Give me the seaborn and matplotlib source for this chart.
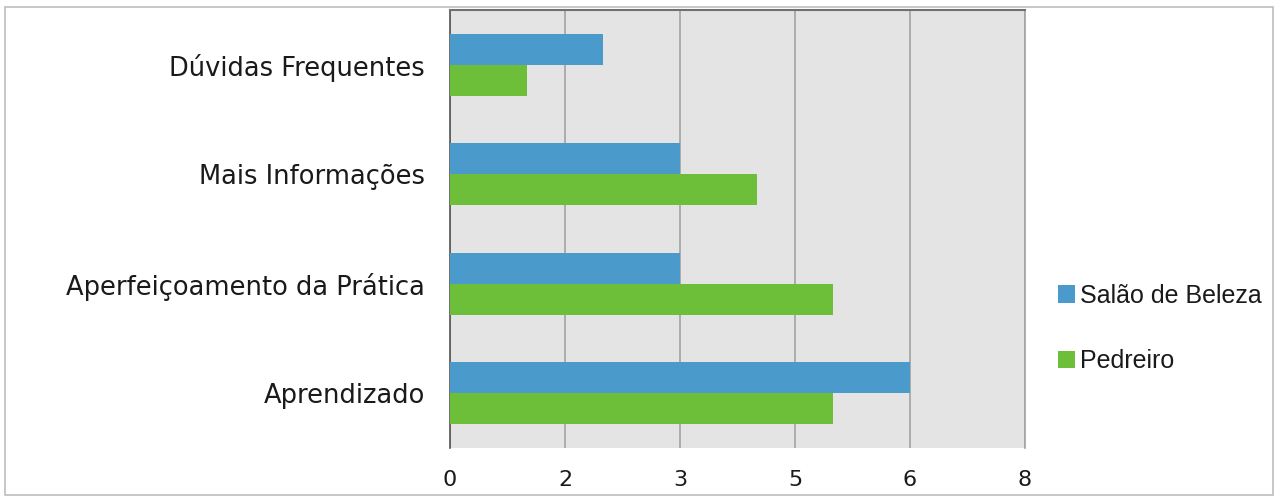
import math
import matplotlib
matplotlib.use("Agg")
import matplotlib.pyplot as plt
from matplotlib.ticker import FuncFormatter, MultipleLocator
from matplotlib.patches import Rectangle
import pandas as pd
import seaborn as sns

categories = ["Dúvidas Frequentes", "Mais Informações", "Aperfeiçoamento da Prática", "Aprendizado"]
series_names = ["Salão de Beleza", "Pedreiro"]
salao_values = [2, 3, 3, 6]
pedreiro_values = [1, 4, 5, 5]
palette = ["#4A9ACC", "#6DBE38"]

df = pd.DataFrame({
    "categoria": categories * 2,
    "valor": salao_values + pedreiro_values,
    "grupo": [series_names[0]] * len(categories) + [series_names[1]] * len(categories),
})

sns.set_theme(style="white")
plt.rcParams["font.family"] = ["DejaVu Sans"]

fig = plt.figure(figsize=(12.79, 4.99), dpi=100)
ax = fig.add_axes([450 / 1279, 1 - 448 / 499, 575 / 1279, 438 / 499])

sns.barplot(data=df, y="categoria", x="valor", hue="grupo", order=categories,
            hue_order=series_names, palette=palette, orient="h", width=0.57,
            saturation=1, linewidth=0, ax=ax, zorder=3)

ax.set_facecolor("#E4E4E4")
ax.set_xlim(0, 7.5)
ax.xaxis.set_major_locator(MultipleLocator(1.5))
ax.xaxis.set_major_formatter(FuncFormatter(lambda v, p: f"{math.floor(v + 0.5):d}"))
ax.grid(axis="x", color="#A3A3A3", linewidth=1.2, zorder=0)
ax.set_axisbelow(True)
ax.set_xlabel("")
ax.set_ylabel("")
ax.tick_params(axis="x", labelsize=16, pad=16, length=0, colors="#1A1A1A")
ax.tick_params(axis="y", labelsize=18.5, pad=18, length=0, colors="#1A1A1A")

for side in ("left", "top", "right", "bottom"):
    ax.spines[side].set_visible(True)
ax.spines["left"].set_color("#555555")
ax.spines["left"].set_linewidth(1.2)
ax.spines["top"].set_color("#707070")
ax.spines["top"].set_linewidth(1.5)
ax.spines["right"].set_color("#A3A3A3")
ax.spines["right"].set_linewidth(1.2)
ax.spines["bottom"].set_visible(False)

leg = ax.legend(loc="center left", bbox_to_anchor=(1.0, 0.273), frameon=False,
                prop={"family": "Liberation Sans", "size": 18},
                handlelength=0.68, handleheight=0.68, handletextpad=0.2,
                labelspacing=1.65, borderaxespad=1.3, borderpad=0.0)
for txt in leg.get_texts():
    txt.set_color("#1A1A1A")

fig.patches.append(Rectangle((5 / 1279, 4 / 499), 1268 / 1279, 488 / 499,
                             transform=fig.transFigure, fill=False,
                             edgecolor="#BDBDBD", linewidth=1.2))

fig.savefig("out.png", dpi=100)
